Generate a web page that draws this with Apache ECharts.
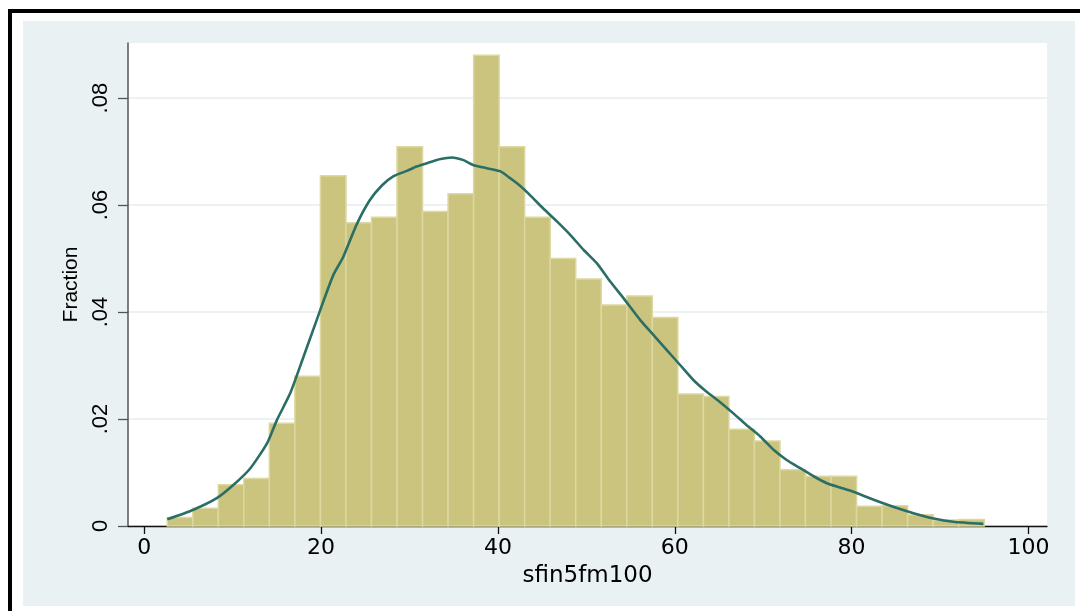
<!DOCTYPE html>
<html>
<head>
<meta charset="utf-8">
<script src="https://cdn.jsdelivr.net/npm/echarts@6/dist/echarts.min.js"></script>
<style>
  html, body { margin: 0; padding: 0; background: #ffffff; }
  #chart { width: 1080px; height: 611px; }
</style>
</head>
<body>
<div id="chart"></div>
<script>
// Histogram of sfin5fm100 (fraction per bin)
const binStart = 2.6;
const binWidth = 2.8875;
const fraction = [0.0016, 0.0033, 0.0077, 0.0089, 0.0192, 0.0280, 0.0655, 0.0567,
                  0.0577, 0.0709, 0.0588, 0.0621, 0.0880, 0.0709, 0.0577, 0.0500,
                  0.0462, 0.0413, 0.0430, 0.0390, 0.0247, 0.0242, 0.0181, 0.0159,
                  0.0105, 0.0093, 0.0093, 0.0037, 0.0038, 0.0021, 0.0011, 0.0012];

// Kernel density curve (scaled to fraction)
const kdX = [2.6, 5.5, 8.2, 10.1, 12.0, 13.9, 15.0, 16.5, 18.0, 19.5, 20.3, 21.4, 22.5, 24.0,
             25.5, 26.9, 28.2, 29.7, 30.8, 32.1, 33.5, 34.8, 36.1, 37.2, 38.7, 40.3, 41.4,
             42.5, 43.6, 45.1, 46.7, 48.2, 49.7, 51.2, 52.7, 54.2, 56.1, 57.6, 59.1, 60.6,
             62.1, 63.6, 65.1, 66.6, 68.1, 69.7, 71.2, 72.7, 74.2, 75.7, 77.2, 78.7, 80.2,
             82.5, 84.7, 87.0, 89.3, 91.5, 94.9];
const kdY = [0.00125, 0.0030, 0.0052, 0.0077, 0.0108, 0.0155, 0.0198, 0.0248, 0.0316, 0.0385,
             0.0422, 0.0470, 0.0503, 0.0563, 0.0609, 0.0637, 0.0654, 0.0664, 0.0672, 0.0679,
             0.0686, 0.0689, 0.0684, 0.0675, 0.0669, 0.0663, 0.0650, 0.0636, 0.0619, 0.0594,
             0.0569, 0.0544, 0.0516, 0.0491, 0.0457, 0.0426, 0.0385, 0.0357, 0.0329, 0.0301,
             0.0273, 0.0251, 0.0232, 0.0211, 0.0189, 0.0167, 0.0142, 0.0123, 0.0108, 0.0093,
             0.0080, 0.0072, 0.0064, 0.0049, 0.0036, 0.0024, 0.0014, 0.0008, 0.0004];

const xTicks = [0, 20, 40, 60, 80, 100];
const yTicks = [0, 0.02, 0.04, 0.06, 0.08];
const yTickText = ['0', '.02', '.04', '.06', '.08'];
const xTitle = 'sfin5fm100';
const yTitle = 'Fraction';

const histData = fraction.map((v, i) => [binStart + i * binWidth, binStart + (i + 1) * binWidth, v]);
const kdData = kdX.map((x, i) => [x, kdY[i]]);

const chart = echarts.init(document.getElementById('chart'), null, { renderer: 'canvas' });

const option = {
  backgroundColor: '#ffffff',
  animation: false,
  graphic: [
    { type: 'rect', z: -100, silent: true, shape: { x: 8, y: 9, width: 1080, height: 4 }, style: { fill: '#000000' } },
    { type: 'rect', z: -100, silent: true, shape: { x: 8, y: 9, width: 4, height: 610 }, style: { fill: '#000000' } },
    { type: 'rect', z: -100, silent: true, shape: { x: 23, y: 21, width: 1052, height: 585 }, style: { fill: '#e9f1f3' } },
    { type: 'rect', z: -99, silent: true, shape: { x: 128, y: 43, width: 919, height: 483 }, style: { fill: '#ffffff' } }
  ],
  grid: { left: 128, top: 43, width: 919, height: 483, show: false, containLabel: false },
  xAxis: {
    type: 'value',
    min: -1.84,
    max: 102.1,
    name: xTitle,
    nameLocation: 'middle',
    nameGap: 39,
    nameTextStyle: { fontFamily: 'DejaVu Sans', fontSize: 23, color: '#000000' },
    axisLine: { show: true, onZero: false, lineStyle: { color: '#111111', width: 1.3 } },
    axisTick: { show: true, length: 8, customValues: xTicks, lineStyle: { color: '#111111', width: 1.3 } },
    axisLabel: { customValues: xTicks, margin: 11, fontFamily: 'DejaVu Sans', fontSize: 22, color: '#000000' },
    splitLine: { show: false }
  },
  yAxis: {
    type: 'value',
    min: 0,
    max: 0.0903,
    interval: 0.02,
    name: yTitle,
    nameLocation: 'middle',
    nameGap: 46,
    nameRotate: 90,
    nameTextStyle: { fontFamily: 'Liberation Sans', fontSize: 21, color: '#000000' },
    axisLine: { show: true, onZero: false, lineStyle: { color: '#555555', width: 1.5 } },
    axisTick: { show: true, length: 10, customValues: yTicks, lineStyle: { color: '#555555', width: 1.3 } },
    axisLabel: {
      customValues: yTicks,
      rotate: 90,
      margin: 16,
      fontFamily: 'Liberation Sans',
      fontSize: 22,
      color: '#000000',
      formatter: (v) => {
        const idx = yTicks.findIndex(t => Math.abs(t - v) < 1e-9);
        return idx >= 0 ? yTickText[idx] : '';
      }
    },
    splitLine: { show: true, lineStyle: { color: '#e6eef1', width: 1.5 } }
  },
  series: [
    {
      type: 'custom',
      name: 'Fraction',
      data: histData,
      encode: { x: [0, 1], y: 2 },
      z: 2,
      renderItem: function (params, api) {
        const p0 = api.coord([api.value(0), 0]);
        const p1 = api.coord([api.value(1), api.value(2)]);
        return {
          type: 'rect',
          shape: { x: p0[0], y: p1[1], width: p1[0] - p0[0], height: p0[1] - p1[1] },
          style: { fill: '#cbc47e', stroke: '#ddd7a0', lineWidth: 1.5 }
        };
      }
    },
    {
      type: 'line',
      name: 'density',
      data: kdData,
      z: 3,
      showSymbol: false,
      smooth: 0.2,
      lineStyle: { color: '#2b6e66', width: 2.6 },
      itemStyle: { color: '#2b6e66' }
    }
  ]
};

chart.setOption(option);
</script>
</body>
</html>
